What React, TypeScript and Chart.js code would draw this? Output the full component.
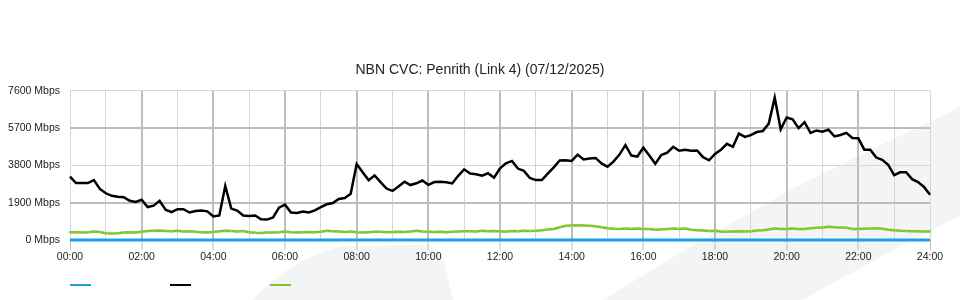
import React, { useEffect, useRef } from 'react';
import { Chart, registerables } from 'chart.js';

Chart.register(...registerables);

const TITLE = 'NBN CVC: Penrith (Link 4) (07/12/2025)';
const Y_MAX = 7600;
const Y_STEP = 1900;
const UNIT = 'Mbps';

// 10-minute sample times, 00:00 .. 24:00
const TIMES: string[] = [];
for (let m = 0; m <= 1440; m += 10) {
  TIMES.push(`${String(Math.floor(m / 60)).padStart(2, '0')}:${String(m % 60).padStart(2, '0')}`);
}

const BLUE_SERIES = [
  0, 0, 0, 0, 0, 0, 0, 0, 0, 0, 0, 0,
  0, 0, 0, 0, 0, 0, 0, 0, 0, 0, 0, 0,
  0, 0, 0, 0, 0, 0, 0, 0, 0, 0, 0, 0,
  0, 0, 0, 0, 0, 0, 0, 0, 0, 0, 0, 0,
  0, 0, 0, 0, 0, 0, 0, 0, 0, 0, 0, 0,
  0, 0, 0, 0, 0, 0, 0, 0, 0, 0, 0, 0,
  0, 0, 0, 0, 0, 0, 0, 0, 0, 0, 0, 0,
  0, 0, 0, 0, 0, 0, 0, 0, 0, 0, 0, 0,
  0, 0, 0, 0, 0, 0, 0, 0, 0, 0, 0, 0,
  0, 0, 0, 0, 0, 0, 0, 0, 0, 0, 0, 0,
  0, 0, 0, 0, 0, 0, 0, 0, 0, 0, 0, 0,
  0, 0, 0, 0, 0, 0, 0, 0, 0, 0, 0, 0, 0,
];

const BLACK_SERIES = [
  3230, 2900, 2900, 2900, 3050, 2600, 2380, 2250, 2200, 2180, 2000, 1940,
  2050, 1680, 1750, 2000, 1540, 1420, 1570, 1570, 1400, 1480, 1500, 1460,
  1200, 1250, 2750, 1600, 1500, 1250, 1220, 1250, 1060, 1040, 1150, 1650,
  1800, 1400, 1380, 1450, 1400, 1510, 1670, 1820, 1880, 2090, 2140, 2350,
  3870, 3450, 3050, 3290, 2950, 2620, 2500, 2730, 2970, 2800, 2890, 3030,
  2810, 2950, 2970, 2940, 2880, 3270, 3600, 3390, 3350, 3280, 3400, 3170,
  3650, 3910, 4030, 3640, 3520, 3160, 3050, 3050, 3380, 3700, 4050, 4060,
  4030, 4350, 4100, 4150, 4180, 3900, 3730, 3990, 4350, 4830, 4300, 4250,
  4700, 4300, 3880, 4330, 4450, 4750, 4550, 4600, 4550, 4560, 4220, 4060,
  4380, 4600, 4900, 4750, 5420, 5250, 5345, 5500, 5550, 5930, 7250, 5630,
  6240, 6150, 5700, 6000, 5450, 5580, 5520, 5620, 5280, 5350, 5460, 5200,
  5180, 4600, 4600, 4200, 4080, 3830, 3300, 3450, 3450, 3100, 2950, 2700, 2300,
];

const GREEN_SERIES = [
  400, 390, 380, 400, 430, 410, 340, 330, 340, 380, 400, 380,
  420, 460, 470, 480, 460, 440, 470, 430, 450, 420, 400, 380,
  410, 440, 470, 460, 430, 460, 400, 370, 360, 380, 380, 400,
  430, 400, 380, 400, 410, 390, 420, 470, 450, 430, 410, 430,
  390, 380, 400, 420, 420, 400, 410, 420, 410, 430, 470, 430,
  420, 410, 420, 390, 420, 430, 440, 450, 430, 470, 450, 460,
  440, 420, 460, 450, 470, 460, 470, 500, 530, 560, 650, 720,
  740, 750, 740, 720, 700, 650, 600, 570, 560, 580, 560, 580,
  560, 560, 520, 540, 560, 580, 560, 580, 520, 500, 480, 460,
  470, 430, 420, 430, 440, 430, 450, 480, 500, 540, 580, 560,
  560, 580, 560, 560, 600, 620, 640, 680, 650, 640, 620, 560,
  560, 570, 580, 600, 570, 520, 500, 470, 460, 450, 440, 430, 430,
];

const SERIES_COLORS = ['#17a2e6', '#000000', '#80c12e'];

const FONT = '"Liberation Sans", Arial, Helvetica, sans-serif';
const GRID_MAJOR = '#bdbdbd';
const GRID_MINOR = '#d6d6d6';

const backgroundPlugin = {
  id: 'bgWatermark',
  beforeDraw(chart: any) {
    const ctx = chart.ctx as CanvasRenderingContext2D;
    ctx.save();
    ctx.fillStyle = '#ffffff';
    ctx.fillRect(0, 0, chart.width, chart.height);
    ctx.fillStyle = '#f3f4f6';
    ctx.beginPath();
    ctx.moveTo(252, 300);
    ctx.quadraticCurveTo(292, 258, 342, 246);
    ctx.lineTo(424, 245);
    ctx.quadraticCurveTo(440, 246, 445, 265);
    ctx.lineTo(453, 300);
    ctx.closePath();
    ctx.fill();
    ctx.beginPath();
    ctx.moveTo(603, 300);
    ctx.lineTo(693, 245);
    ctx.lineTo(790, 190);
    ctx.lineTo(870, 150);
    ctx.lineTo(940, 117);
    ctx.lineTo(960, 107);
    ctx.lineTo(960, 216);
    ctx.lineTo(910, 241);
    ctx.lineTo(802, 300);
    ctx.closePath();
    ctx.fill();
    ctx.restore();
  },
};

const legendPlugin = {
  id: 'lineLegend',
  afterDraw(chart: any) {
    const ctx = chart.ctx as CanvasRenderingContext2D;
    const left = chart.chartArea.left;
    ctx.save();
    chart.data.datasets.forEach((ds: any, i: number) => {
      ctx.strokeStyle = ds.borderColor;
      ctx.lineWidth = 2;
      ctx.beginPath();
      ctx.moveTo(left + i * 100, 285);
      ctx.lineTo(left + i * 100 + 21, 285);
      ctx.stroke();
    });
    ctx.restore();
  },
};

export default function App() {
  const ref = useRef<HTMLCanvasElement | null>(null);

  useEffect(() => {
    document.body.style.margin = '0';
    if (!ref.current) return;
    const chart = new Chart(ref.current, {
      type: 'line',
      data: {
        labels: TIMES,
        datasets: [
          {
            label: '',
            data: BLUE_SERIES,
            borderColor: SERIES_COLORS[0],
            backgroundColor: SERIES_COLORS[0],
            borderWidth: 3,
            pointRadius: 0,
            tension: 0,
            clip: false,
          },
          {
            label: '',
            data: BLACK_SERIES,
            borderColor: SERIES_COLORS[1],
            backgroundColor: SERIES_COLORS[1],
            borderWidth: 2.5,
            pointRadius: 0,
            tension: 0,
          },
          {
            label: '',
            data: GREEN_SERIES,
            borderColor: SERIES_COLORS[2],
            backgroundColor: SERIES_COLORS[2],
            borderWidth: 2.5,
            pointRadius: 1.2,
            pointBorderWidth: 0,
            pointBackgroundColor: '#8fd13a',
            tension: 0,
          },
        ],
      },
      options: {
        responsive: false,
        animation: false,
        devicePixelRatio: 1,
        layout: { padding: { left: 0, right: 0, top: 0, bottom: 0 } },
        plugins: {
          legend: { display: false },
          tooltip: { enabled: false },
          title: {
            display: true,
            text: TITLE,
            color: '#222222',
            font: { family: FONT, size: 14, weight: 'normal' },
            padding: { top: 62, bottom: 12 },
          },
        },
        scales: {
          x: {
            type: 'category',
            offset: false,
            afterFit: (s: any) => {
              s.height = 60;
            },
            border: { display: false },
            grid: {
              drawOnChartArea: true,
              drawTicks: true,
              tickLength: 10,
              color: (c: any) => {
                const i = c.index;
                if (i % 6 !== 0) return 'rgba(0,0,0,0)';
                if (i === 0 || i === 144) return GRID_MINOR;
                return i % 12 === 0 ? GRID_MAJOR : GRID_MINOR;
              },
              lineWidth: (c: any) => {
                const i = c.index;
                if (i === 0 || i === 144) return 1;
                return i % 12 === 0 ? 2 : 1;
              },
              tickColor: (c: any) => (c.index % 12 === 0 ? GRID_MAJOR : 'rgba(0,0,0,0)'),
              tickWidth: 1,
            },
            ticks: {
              autoSkip: false,
              maxRotation: 0,
              minRotation: 0,
              padding: 1,
              color: '#222222',
              font: { family: FONT, size: 10.5 },
              callback: (_v: any, i: number) => (i % 12 === 0 ? TIMES[i] : ''),
            },
          },
          y: {
            min: 0,
            max: Y_MAX,
            afterFit: (s: any) => {
              s.width = 70;
            },
            border: { display: false },
            grid: {
              drawTicks: false,
              color: (c: any) => {
                const v = c.tick && c.tick.value;
                return v === 1900 || v === 5700 ? GRID_MAJOR : GRID_MINOR;
              },
              lineWidth: (c: any) => {
                const v = c.tick && c.tick.value;
                return v === 1900 || v === 5700 ? 2 : 1;
              },
            },
            ticks: {
              stepSize: Y_STEP,
              padding: 10,
              color: '#222222',
              font: { family: FONT, size: 10.5 },
              callback: (v: any) => `${v} ${UNIT}`,
            },
          },
          yRight: {
            type: 'linear',
            position: 'right',
            min: 0,
            max: Y_MAX,
            afterFit: (s: any) => {
              s.width = 30;
            },
            border: { display: false },
            grid: { drawOnChartArea: false, drawTicks: false },
            ticks: { display: false },
          },
        },
      },
      plugins: [backgroundPlugin, legendPlugin],
    } as any);
    return () => chart.destroy();
  }, []);

  return (
    <div style={{ width: 960, height: 300 }}>
      <canvas ref={ref} width={960} height={300} style={{ display: 'block' }} />
    </div>
  );
}
